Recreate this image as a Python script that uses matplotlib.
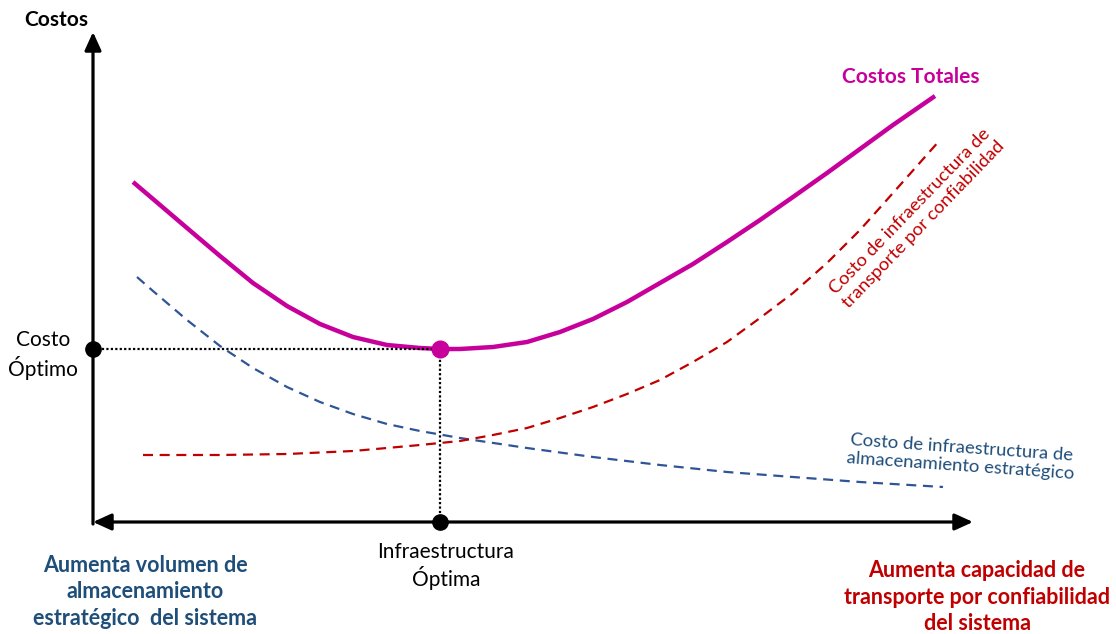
import numpy as np
import matplotlib
matplotlib.use("Agg")
import matplotlib.pyplot as plt

plt.rcParams['font.family'] = ['Lato', 'DejaVu Sans']

# Curve samples (x = capacidad, y = costo), origin at the axes crossing
total_x = [40, 60, 94, 127, 160, 194, 227, 260, 294, 327, 347, 367, 400, 434,
           467, 500, 534, 567, 600, 634, 667, 700, 734, 767, 800, 842]
total_y = [340, 323, 294, 266, 239, 216, 198, 185, 177, 174, 173, 173, 175, 180,
           190, 203, 220, 239, 258, 280, 302, 325, 349, 373, 397, 426]

transporte_x = [50, 127, 194, 260, 294, 327, 367, 400, 434, 467, 500, 534, 567,
                600, 634, 667, 700, 734, 767, 800, 847]
transporte_y = [67, 67, 68, 71, 74, 77, 81, 87, 94, 104, 115, 128, 142,
                160, 180, 204, 229, 259, 292, 329, 382]

almacen_x = [44, 60, 94, 127, 160, 194, 227, 260, 294, 327, 367, 434, 500,
             567, 634, 700, 767, 850]
almacen_y = [245, 231, 202, 176, 154, 135, 120, 108, 98, 91, 84, 74, 65,
             57, 50, 45, 40, 35]

optimo_x = 347
optimo_y = 173
eje_x_max = 880
eje_y_max = 490

MAGENTA = '#C8009B'
ROJO = '#C00000'
AZUL_LINEA = '#2F5597'
AZUL_TEXTO = '#1F4E79'

fig = plt.figure(figsize=(11.16, 6.34), dpi=100)
ax = fig.add_axes([0, 0, 1, 1])
ax.set_xlim(-93, 1116 - 93)
ax.set_ylim(522 - 634, 522)
ax.axis('off')

# axes with arrows
ax.annotate('', xy=(0, eje_y_max), xytext=(0, -2),
            arrowprops=dict(arrowstyle='-|>,head_length=1.1,head_width=0.5',
                            lw=2.3, color='black', shrinkA=0, shrinkB=0))
ax.annotate('', xy=(eje_x_max, 0), xytext=(0, 0),
            arrowprops=dict(arrowstyle='<|-|>,head_length=1.1,head_width=0.5',
                            lw=2.3, color='black', shrinkA=0, shrinkB=0))

# cost curves
ax.plot(almacen_x, almacen_y, color=AZUL_LINEA, lw=1.6, ls=(0, (4.5, 3)))
ax.plot(transporte_x, transporte_y, color=ROJO, lw=1.6, ls=(0, (4.5, 3)))
ax.plot(total_x, total_y, color=MAGENTA, lw=3.2, solid_capstyle='butt',
        solid_joinstyle='round')

# optimum guides
ax.plot([0, optimo_x], [optimo_y, optimo_y], color='black', lw=1.6, ls=(0, (1, 1)))
ax.plot([optimo_x, optimo_x], [0, optimo_y], color='black', lw=1.6, ls=(0, (1, 1)))
ax.plot([0], [optimo_y], 'o', color='black', ms=11, zorder=5)
ax.plot([optimo_x], [0], 'o', color='black', ms=11, zorder=5)
ax.plot([optimo_x], [optimo_y], 'o', color=MAGENTA, ms=12, zorder=6)

# labels
ax.text(-37, 502, 'Costos', fontsize=15, fontweight='bold', ha='center', va='center')
ax.text(-50, 167, 'Costo\nÓptimo', fontsize=15, ha='center', va='center',
        linespacing=1.25)
ax.text(353, -44, 'Infraestructura\nÓptima', fontsize=15, ha='center', va='center',
        linespacing=1.25)
ax.text(818, 445, 'Costos Totales', fontsize=15, fontweight='bold', color=MAGENTA,
        ha='center', va='center')
ax.text(824, 304, 'Costo de infraestructura de\ntransporte por confiabilidad',
        fontsize=13.3, color=ROJO, ha='center', va='center', rotation=46,
        rotation_mode='anchor', linespacing=1.2)
ax.text(868, 65, 'Costo de infraestructura de\nalmacenamiento estratégico',
        fontsize=13.3, color=AZUL_TEXTO, ha='center', va='center', rotation=-4,
        rotation_mode='anchor', linespacing=1.2)
ax.text(52, -70, 'Aumenta volumen de\nalmacenamiento\nestratégico  del sistema',
        fontsize=15.5, fontweight='bold', color=AZUL_TEXTO, ha='center', va='center',
        linespacing=1.3)
ax.text(884, -75, 'Aumenta capacidad de\ntransporte por confiabilidad\ndel sistema',
        fontsize=15.5, fontweight='bold', color=ROJO, ha='center', va='center',
        linespacing=1.3)

fig.savefig('out.png', dpi=100)
